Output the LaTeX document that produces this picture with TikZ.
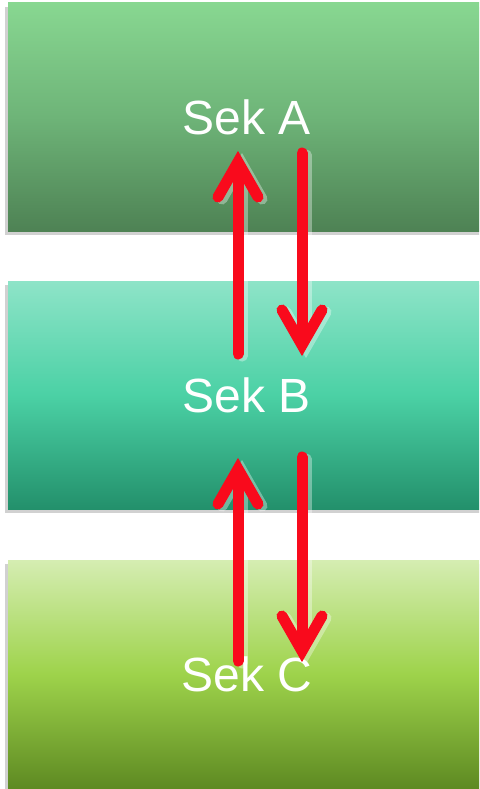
\documentclass[tikz,border=0pt]{standalone}
\usepackage{fontspec}
\setmainfont{Liberation Sans}
\usetikzlibrary{calc}
\definecolor{arrred}{RGB}{249,10,28}
\definecolor{aTop}{RGB}{136,215,145}
\definecolor{aMid}{RGB}{110,180,120}
\definecolor{aBot}{RGB}{78,130,84}
\definecolor{bTop}{RGB}{142,228,200}
\definecolor{bMid}{RGB}{75,209,165}
\definecolor{bBot}{RGB}{35,144,107}
\definecolor{cTop}{RGB}{213,237,178}
\definecolor{cMid}{RGB}{158,211,75}
\definecolor{cBot}{RGB}{94,138,34}
\tikzset{
  secbox/.style={rectangle, minimum width=478pt, minimum height=228pt, inner sep=0pt,
    text=white, font=\fontsize{48}{48}\selectfont},
  boxshadow/.style={fill=black!18},
  redline/.style={draw=arrred, line width=11pt, line cap=round, line join=miter},
  glow/.style={draw=white, line width=11pt, line cap=round, line join=miter, opacity=0.35},
}
\newcommand{\myupdown}[3]{% #1 tail, #2 vertex, #3 direction (1 up, -1 down)
}
\begin{document}
\begin{tikzpicture}[x=1pt,y=-1pt]
\clip (0,0) rectangle (479,789);
\fill[white] (0,0) rectangle (479,789);
% shadows
\fill[boxshadow] (5,7) rectangle (484,235);
\fill[boxshadow] (5,285) rectangle (484,513);
\fill[boxshadow] (5,564) rectangle (484,792);
% boxes
\node[secbox, top color=aTop, bottom color=aBot, middle color=aMid] (A) at (247,117) {Sek A};
\node[secbox, top color=bTop, bottom color=bBot, middle color=bMid] (B) at (247,395) {Sek B};
\node[secbox, top color=cTop, bottom color=cBot, middle color=cMid] (C) at (247,674) {Sek C};
% arrow anchor points
\coordinate (u1s) at (238,354); \coordinate (u1t) at (238,162);
\coordinate (d1s) at (302,153); \coordinate (d1t) at (302,345);
\coordinate (u2s) at (238,661); \coordinate (u2t) at (238,469);
\coordinate (d2s) at (302,457); \coordinate (d2t) at (302,651);
% glows
\foreach \s/\t/\d in {u1s/u1t/1,u2s/u2t/1,d1s/d1t/-1,d2s/d2t/-1}{
  \draw[glow] ($(\s)+(4,2)$) -- ($(\t)+(4,2+\d*8)$);
  \draw[glow] ($(\t)+(-16,2+\d*35)$) -- ($(\t)+(4,2)$) -- ($(\t)+(24,2+\d*35)$);
}
% arrows
\foreach \s/\t/\d in {u1s/u1t/1,u2s/u2t/1,d1s/d1t/-1,d2s/d2t/-1}{
  \draw[redline] (\s) -- ($(\t)+(0,\d*8)$);
  \draw[redline] ($(\t)+(-20,\d*35)$) -- (\t) -- ($(\t)+(20,\d*35)$);
}
\end{tikzpicture}
\end{document}
